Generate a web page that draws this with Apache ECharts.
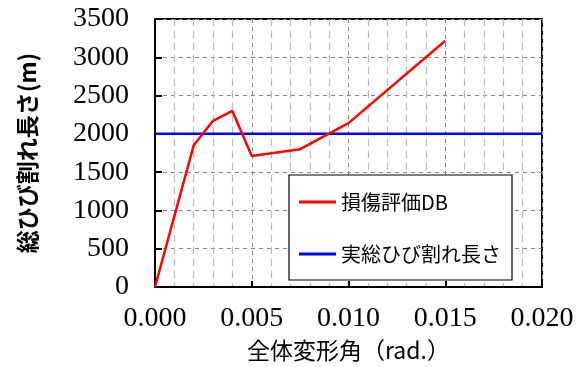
<!DOCTYPE html>
<html>
<head>
<meta charset="utf-8">
<script src="https://cdn.jsdelivr.net/npm/echarts@6/dist/echarts.min.js"></script>
<style>
  html, body { margin: 0; padding: 0; background: #fff; }
  #chart { width: 581px; height: 367px; }
</style>
</head>
<body>
<div id="chart"></div>
<script>
// Overall deformation angle (rad.) vs. total crack length (m)
const driftAngles = [0, 0.002, 0.003, 0.004, 0.005, 0.0075, 0.010, 0.015];
const crackLengthDB = [0, 1850, 2170, 2300, 1710, 1800, 2140, 3215];
const actualCrackLength = 2000;
const actualRange = [0, 0.020];

const seriesNames = ['損傷評価DB', '実総ひび割れ長さ'];
const xTitle = '全体変形角（rad.）';
const yTitle = '総ひび割れ長さ(m)';

const serif = 'Liberation Serif';
const cjk = 'Noto Sans CJK JP';

const chart = echarts.init(document.getElementById('chart'));
chart.setOption({
  animation: false,
  backgroundColor: '#fff',
  grid: {
    left: 155, right: 39, top: 19, bottom: 79,
    show: true, borderColor: '#000', borderWidth: 2, backgroundColor: 'transparent'
  },
  legend: {
    orient: 'vertical',
    left: 289, top: 175,
    padding: [17, 11, 16, 10],
    itemGap: 32,
    itemWidth: 37, itemHeight: 3,
    icon: 'rect',
    backgroundColor: '#fff',
    borderColor: '#000', borderWidth: 1.2,
    textStyle: { fontFamily: cjk, fontSize: 20, lineHeight: 20, color: '#000', padding: [0, 0, 0, 0] },
    data: seriesNames
  },
  xAxis: {
    type: 'value',
    min: 0, max: 0.02, interval: 0.005,
    name: xTitle,
    nameLocation: 'middle',
    nameGap: 52,
    nameTextStyle: { fontFamily: cjk, fontSize: 23, color: '#000' },
    axisLine: { show: true, onZero: false, lineStyle: { color: '#000', width: 2 } },
    axisTick: { show: true, inside: true, length: 6, lineStyle: { color: '#000', width: 2 } },
    axisLabel: {
      fontFamily: serif, fontSize: 28, color: '#000', margin: 18,
      formatter: v => v.toFixed(3)
    },
    splitLine: { show: true, lineStyle: { color: '#888', type: [4, 4], width: 1 } },
    minorTick: { show: false, splitNumber: 5 },
    minorSplitLine: { show: true, lineStyle: { color: '#bbb', type: [7, 5], width: 1.2 } }
  },
  yAxis: {
    type: 'value',
    min: 0, max: 3500, interval: 500,
    name: yTitle,
    nameLocation: 'middle',
    nameGap: 116,
    nameTextStyle: { fontFamily: cjk, fontSize: 23, fontWeight: 'bold', color: '#000' },
    axisLine: { show: true, lineStyle: { color: '#000', width: 2 } },
    axisTick: { show: true, inside: true, length: 7, lineStyle: { color: '#000', width: 2 } },
    axisLabel: {
      fontFamily: serif, fontSize: 28, color: '#000', margin: 26,
      formatter: v => String(v)
    },
    splitLine: { show: true, lineStyle: { color: '#888', type: [4, 4], width: 1 } }
  },
  series: [
    {
      name: seriesNames[0],
      type: 'line',
      data: driftAngles.map((x, i) => [x, crackLengthDB[i]]),
      symbol: 'none',
      color: '#ff0000',
      lineStyle: { color: '#ff0000', width: 2.5 },
      z: 3
    },
    {
      name: seriesNames[1],
      type: 'line',
      data: actualRange.map(x => [x, actualCrackLength]),
      symbol: 'none',
      color: '#0000ff',
      lineStyle: { color: '#0000ff', width: 2.5 },
      z: 2
    }
  ]
});
</script>
</body>
</html>
